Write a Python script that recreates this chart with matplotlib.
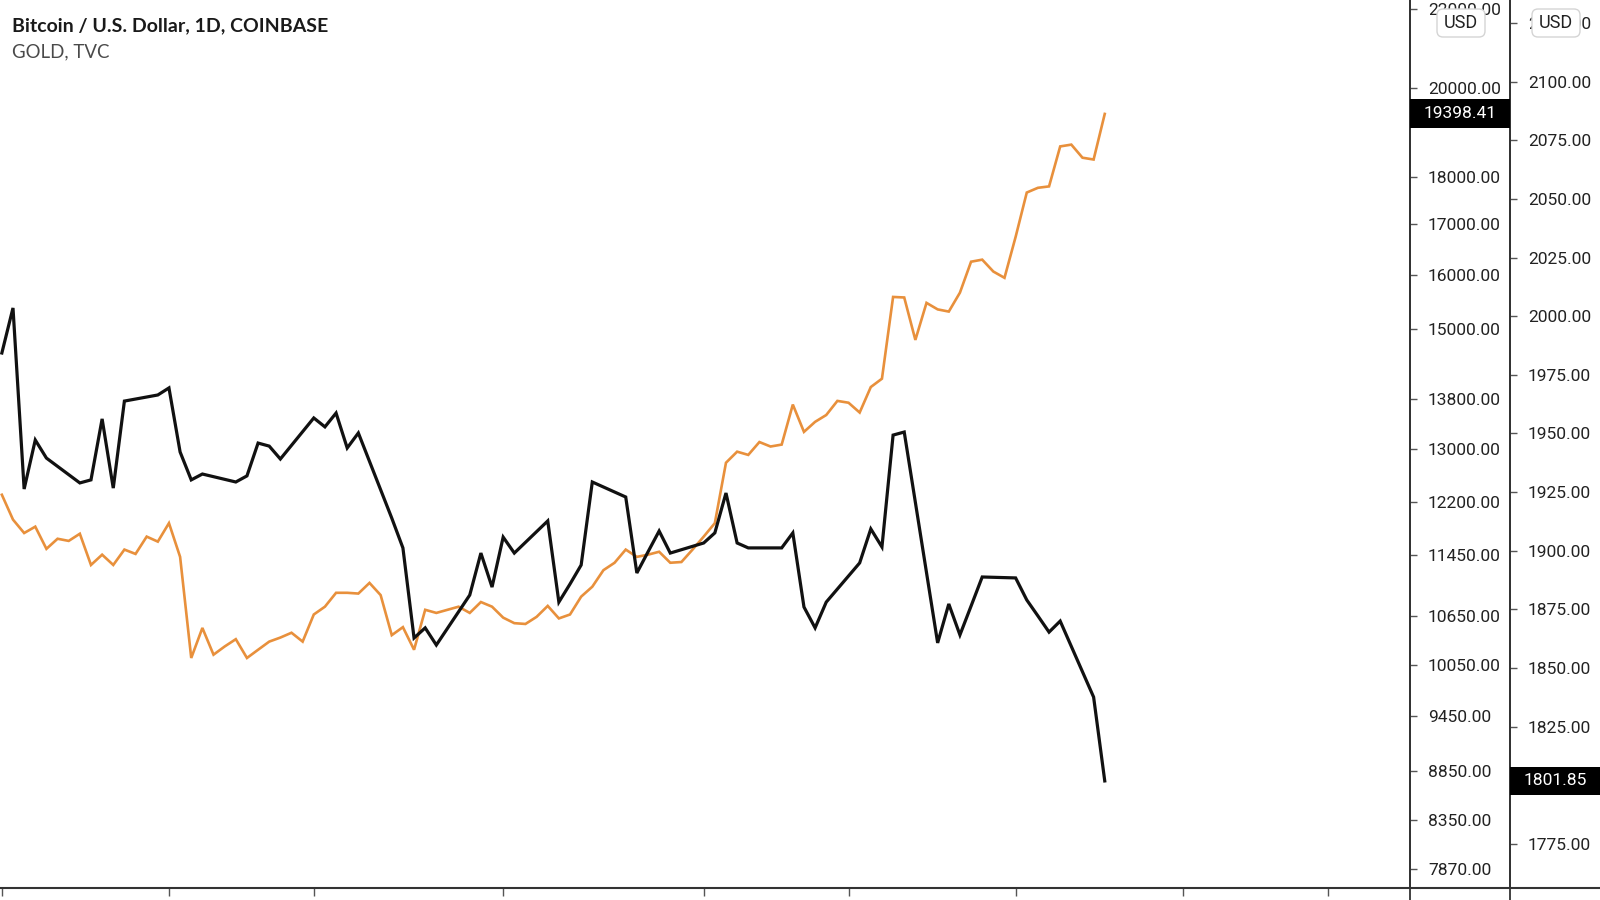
import matplotlib
matplotlib.use('Agg')
import matplotlib.pyplot as plt
import matplotlib.ticker as mticker
from matplotlib.lines import Line2D
from matplotlib.patches import Rectangle, FancyBboxPatch
import pandas as pd

W, H = 1600, 900
plt.rcParams['font.family'] = ['Roboto', 'DejaVu Sans']

# daily BTC closes (Coinbase), Aug 17 -> Nov 24 2020
dates = pd.date_range('2020-08-17', periods=100, freq='D')
btc = [12310, 11950, 11760, 11850, 11540, 11680, 11650, 11750, 11320, 11460,
       11320, 11530, 11470, 11710, 11640, 11900, 11430, 10130, 10500, 10170,
       10270, 10360, 10130, 10230, 10330, 10380, 10440, 10330, 10670, 10770,
       10950, 10950, 10940, 11080, 10920, 10410, 10510, 10230, 10730, 10690,
       10730, 10770, 10690, 10830, 10770, 10630, 10560, 10550, 10640, 10780,
       10620, 10670, 10900, 11030, 11250, 11350, 11530, 11430, 11460, 11500,
       11350, 11360, 11530, 11710, 11900, 12790, 12960, 12910, 13110, 13040,
       13070, 13710, 13270, 13430, 13540, 13770, 13740, 13580, 14000, 14140,
       15590, 15580, 14810, 15480, 15360, 15320, 15670, 16260, 16300, 16070,
       15950, 16750, 17660, 17760, 17790, 18660, 18700, 18410, 18370, 19398.41]

# gold (TVC) only trades on weekdays
gold_dates = dates[dates.dayofweek < 5]
gold = [1984.3, 2003.5, 1926.3, 1947.2, 1939.5,
        1928.9, 1930.2, 1956.2, 1926.7, 1963.8,
        1966.4, 1969.4, 1942.1, 1930.2, 1932.7,
        1929.3, 1931.9, 1945.9, 1944.6, 1939.1,
        1956.6, 1952.8, 1958.7, 1943.8, 1950.2,
        1913.9, 1901.2, 1862.8, 1867.1, 1859.8,
        1881.1, 1899.0, 1884.5, 1905.8, 1899.0,
        1912.7, 1878.1, 1885.8, 1893.9, 1929.3,
        1922.9, 1890.5, 1899.5, 1908.4, 1899.0,
        1903.3, 1907.6, 1924.6, 1903.3, 1901.2,
        1901.2, 1907.6, 1876.0, 1867.1, 1878.1,
        1894.8, 1909.3, 1901.6, 1949.3, 1950.6,
        1860.7, 1877.3, 1864.1, 1876.4, 1888.8,
        1888.4, 1879.0, 1872.2, 1865.3, 1870.0,
        1837.6, 1801.85]

btc_ticks = [7870, 8350, 8850, 9450, 10050, 10650, 11450, 12200, 13000,
             13800, 15000, 16000, 17000, 18000, 20000, 22000]
gold_ticks = [1775, 1825, 1850, 1875, 1900, 1925, 1950, 1975, 2000,
              2025, 2050, 2075, 2100, 2125]
x_ticks = pd.to_datetime(['2020-08-17', '2020-09-01', '2020-09-14', '2020-10-01',
                          '2020-10-19', '2020-11-01', '2020-11-16', '2020-12-01',
                          '2020-12-14'])

ORANGE = '#E8903C'
AXC = '#333333'
TXT = '#222222'

fig = plt.figure(figsize=(W / 100, H / 100), dpi=100)
fig.patch.set_facecolor('white')
ax = fig.add_axes([0, 12 / H, 1410 / W, 888 / H])
ax2 = ax.twinx()

ax.plot(dates, btc, color=ORANGE, lw=1.9, solid_joinstyle='miter')
ax2.plot(gold_dates, gold, color='#111111', lw=2.3, solid_joinstyle='miter')

ax.set_xlim(dates[0] - pd.Timedelta(hours=4), dates[0] + pd.Timedelta(days=126.4))
ax.set_yscale('log')
ax.set_ylim(7697, 22225)
ax2.set_ylim(1756.2, 2134.8)

ax.yaxis.set_major_locator(mticker.FixedLocator(btc_ticks))
ax.yaxis.set_major_formatter(mticker.FormatStrFormatter('%.2f'))
ax.yaxis.set_minor_locator(mticker.NullLocator())
ax.yaxis.tick_right()
ax2.yaxis.set_major_locator(mticker.FixedLocator(gold_ticks))
ax2.yaxis.set_major_formatter(mticker.FormatStrFormatter('%.2f'))

for a in (ax, ax2):
    a.tick_params(axis='y', which='major', direction='out', length=5, width=1,
                  color='#555555', pad=8, labelsize=12.5, labelcolor=TXT)
    for s in ('top', 'left', 'bottom'):
        a.spines[s].set_visible(False)
    a.spines['right'].set_color(AXC)
    a.spines['right'].set_linewidth(1.3)
ax2.spines['right'].set_position(('axes', 1510 / 1410))

ax.set_xticks(x_ticks)
ax.set_xticklabels([])
ax.tick_params(axis='x', direction='out', length=6, width=1, color='#555555')

# frame lines across the whole picture
fig.add_artist(Line2D([0, 1], [12 / H, 12 / H], transform=fig.transFigure, color=AXC, lw=1.5))
for xp in (1410, 1510):
    fig.add_artist(Line2D([xp / W, xp / W], [0, 1], transform=fig.transFigure, color=AXC, lw=1.3))

# last-price labels
inv = fig.transFigure.inverted()
y_btc = inv.transform(ax.transData.transform((0, btc[-1])))[1]
y_gold = inv.transform(ax2.transData.transform((0, gold[-1])))[1]
fig.add_artist(Rectangle((1410 / W, y_btc - 14.5 / H), 100 / W, 29 / H,
                         transform=fig.transFigure, fc='black', ec='none', zorder=5))
fig.text(1460 / W, y_btc, f'{btc[-1]:.2f}', color='white', fontsize=12.5,
         ha='center', va='center', zorder=6)
fig.add_artist(Rectangle((1510 / W, y_gold - 14 / H), 90 / W, 28 / H,
                         transform=fig.transFigure, fc='black', ec='none', zorder=5))
fig.text(1555 / W, y_gold, f'{gold[-1]:.2f}', color='white', fontsize=12.5,
         ha='center', va='center', zorder=6)

# currency buttons (pixel-sized boxes)
for xp in (1461, 1556):
    fig.add_artist(FancyBboxPatch((xp - 24, H - 37), 48, 28,
                                  boxstyle='round,pad=0,rounding_size=6',
                                  transform=None, fc='white', ec='#d4d4d4', lw=1, zorder=7))
    fig.text(xp / W, 1 - 23 / H, 'USD', color=TXT, fontsize=13, ha='center', va='center',
             zorder=8)

# legend / title
fig.text(11.5 / W, 1 - 25.5 / H, 'Bitcoin / U.S. Dollar, 1D, COINBASE',
         family=['Lato', 'DejaVu Sans'], fontweight='bold', fontsize=14,
         color='#1a1a1a', ha='left', va='center')
fig.text(11.5 / W, 1 - 52 / H, 'GOLD, TVC', family=['Lato', 'DejaVu Sans'],
         fontsize=13.4, color='#4a4a4a', ha='left', va='center')

fig.savefig('out.png', dpi=100, facecolor='white')
